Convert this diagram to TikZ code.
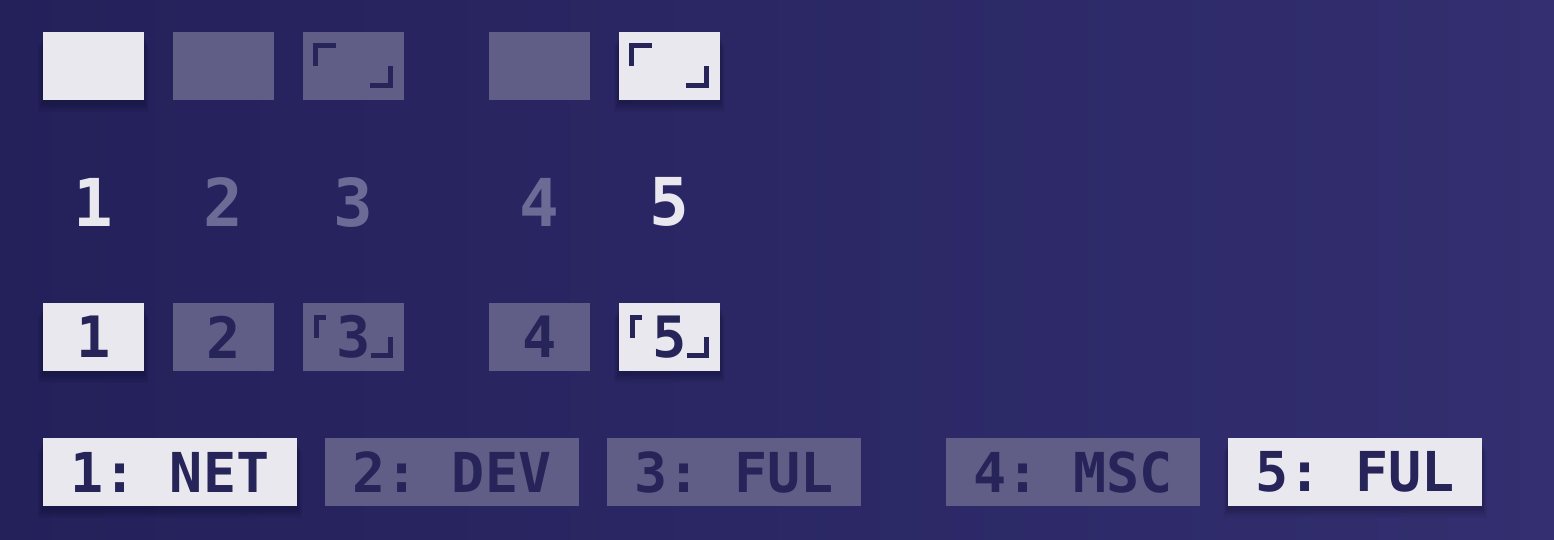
\documentclass[tikz,border=0pt]{standalone}
\usepackage{fontspec}
\newfontfamily\pmono{DejaVu Sans Mono}
\usetikzlibrary{calc}
\definecolor{bgL}{HTML}{23205A}
\definecolor{bgR}{HTML}{332F70}
\definecolor{lite}{HTML}{E9E8EF}
\definecolor{dim}{HTML}{605E86}
\definecolor{ink}{HTML}{272459}
\definecolor{dimtxt}{HTML}{6C6B96}
\tikzset{
  tile/.style={minimum width=101pt, minimum height=68pt, inner sep=0pt, outer sep=0pt, anchor=north west, font=\pmono\bfseries\fontsize{57}{57}\selectfont, text=ink},
  wide/.style={minimum width=254pt, minimum height=68pt, inner sep=0pt, outer sep=0pt, anchor=north west, font=\pmono\bfseries\fontsize{55}{55}\selectfont, text=ink},
  on/.style={fill=lite},
  off/.style={fill=dim},
  digit/.style={inner sep=0pt, font=\pmono\bfseries\fontsize{66}{66}\selectfont},
  brk/.style={draw=ink, line width=5pt, line cap=butt, line join=miter},
  sbrk/.style={draw=ink, line width=4.5pt, line cap=butt, line join=miter},
}
\newcommand{\shadowbox}[1]{%
  \foreach \i in {1,...,6}{%
    \fill[black, opacity=0.035] ($(#1.north west)+(-\i*0.8, 4+\i*1.6)$) rectangle ($(#1.south east)+(\i*0.8, 2+\i*1.6)$);
  }}
\newcommand{\bigcorners}[1]{%
  \draw[brk] ($(#1.north west)+(12.5,34)$) -- ($(#1.north west)+(12.5,13.5)$) -- ($(#1.north west)+(33,13.5)$);
  \draw[brk] ($(#1.north west)+(67,53.5)$) -- ($(#1.north west)+(87.5,53.5)$) -- ($(#1.north west)+(87.5,34)$);}
\newcommand{\smallcorners}[1]{%
  \draw[sbrk] ($(#1.north west)+(13.5,35)$) -- ($(#1.north west)+(13.5,14.5)$) -- ($(#1.north west)+(23,14.5)$);
  \draw[sbrk] ($(#1.north west)+(68,52.5)$) -- ($(#1.north west)+(87.5,52.5)$) -- ($(#1.north west)+(87.5,34)$);}
\begin{document}
\begin{tikzpicture}[x=1pt, y=-1pt]
\useasboundingbox (0,0) rectangle (1554,540);
\shade[left color=bgL, right color=bgR] (0,0) rectangle (1554,540);
% shadows (coordinates of bright tiles)
\coordinate (s1a) at (43,32); \coordinate (s1b) at (144,100);
\coordinate (s5a) at (619,32); \coordinate (s5b) at (720,100);
% row 1
\node[tile, off] (a2) at (173,32) {};
\node[tile, off] (a3) at (303,32) {};
\node[tile, off] (a4) at (489,32) {};
\path (43,32) node[tile] (sa1) {} (619,32) node[tile] (sa5) {};
\shadowbox{sa1}\shadowbox{sa5}
\node[tile, on] (a1) at (43,32) {};
\node[tile, on] (a5) at (619,32) {};
\bigcorners{a3}
\bigcorners{a5}
% row 2
\node[digit, text=lite]   (b1) at (93.5,202) {1};
\node[digit, text=dimtxt] (b2) at (223.5,202) {2};
\node[digit, text=dimtxt] (b3) at (353.5,202) {3};
\node[digit, text=dimtxt] (b4) at (539.5,202) {4};
\node[digit, text=lite]   (b5) at (669.5,202) {5};
% row 3
\path (43,303) node[tile] (sc1) {} (619,303) node[tile] (sc5) {};
\shadowbox{sc1}\shadowbox{sc5}
\node[tile, on]  (c1) at (43,303) {1};
\node[tile, off] (c2) at (173,303) {2};
\node[tile, off] (c3) at (303,303) {3};
\node[tile, off] (c4) at (489,303) {4};
\node[tile, on]  (c5) at (619,303) {5};
\smallcorners{c3}
\smallcorners{c5}
% row 4
\path (43,438) node[wide] (sd1) {} (1228,438) node[wide] (sd5) {};
\shadowbox{sd1}\shadowbox{sd5}
\node[wide, on]  (d1) at (43,438)   {1:\ NET};
\node[wide, off] (d2) at (325,438)  {2:\ DEV};
\node[wide, off] (d3) at (607,438)  {3:\ FUL};
\node[wide, off] (d4) at (946,438)  {4:\ MSC};
\node[wide, on]  (d5) at (1228,438) {5:\ FUL};
\end{tikzpicture}
\end{document}
